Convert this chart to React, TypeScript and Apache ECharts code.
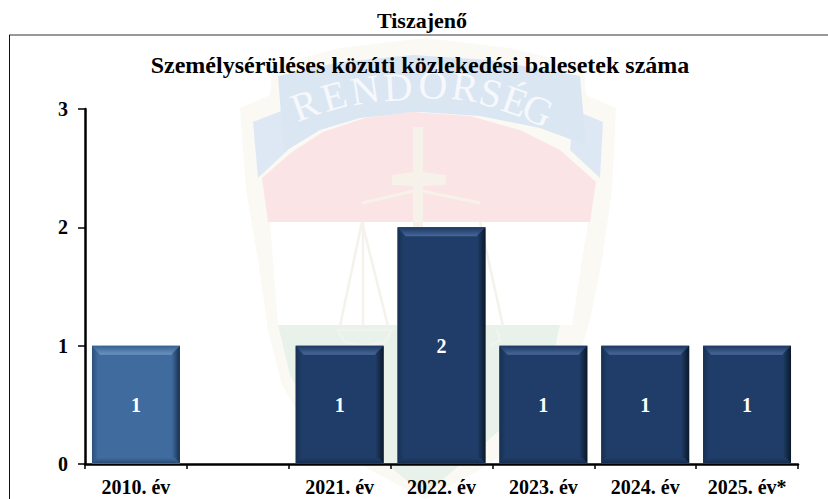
import React, { useEffect, useRef } from "react";
import * as echarts from "echarts";

const categories = ["2010. év", "", "2021. év", "2022. év", "2023. év", "2024. év", "2025. év*"];
const accidents: (number | null)[] = [1, null, 1, 2, 1, 1, 1];
const yTicks = { min: 0, max: 3, interval: 1 };
const pageTitle = "Tiszajenő";
const chartTitle = "Személysérüléses közúti közlekedési balesetek száma";
const crestWord = ["R", "E", "N", "D", "Ő", "R", "S", "É", "G"];

const SERIF = '"Liberation Serif", serif';

const paletteFor = (i: number) =>
  i === 0
    ? { base: "#3F6B9E", top: "#6A93C2", topEdge: "#35608F", side: "#17304D", left: "#2C5079", bottom: "#2A4C75" }
    : { base: "#1F3D68", top: "#48689A", topEdge: "#1C3760", side: "#0B1829", left: "#172F52", bottom: "#172E50" };

const renderBevel = (params: any, api: any) => {
  const i = api.value(0);
  const v = api.value(1);
  const p = paletteFor(i);
  const top = api.coord([i, v]);
  const bottom = api.coord([i, 0]);
  const w = api.size([1, 0])[0] * 0.863;
  const x0 = top[0] - w / 2;
  const x1 = top[0] + w / 2;
  const y0 = top[1];
  const y1 = bottom[1] - 1;
  const b = 8;
  const poly = (points: number[][], fill: any) => ({
    type: "polygon",
    shape: { points },
    style: { fill },
    silent: true,
  });
  const grad = (x: number, y: number, x2: number, y2: number, a: string, c: string) =>
    new echarts.graphic.LinearGradient(x, y, x2, y2, [
      { offset: 0, color: a },
      { offset: 1, color: c },
    ]);
  return {
    type: "group",
    children: [
      poly([[x0, y0], [x1, y0], [x1 - b, y0 + b + 1], [x0 + b, y0 + b + 1]], grad(0, 0, 0, 1, p.topEdge, p.top)),
      poly([[x0, y0], [x0 + b - 2, y0 + b], [x0 + b - 2, y1 - b + 3], [x0, y1]], grad(0, 0, 1, 0, p.left, p.base)),
      poly([[x1, y0], [x1 - b, y0 + b], [x1 - b, y1 - b + 3], [x1, y1]], grad(1, 0, 0, 0, p.side, p.base)),
      poly([[x0, y1], [x1, y1], [x1 - b + 3, y1 - b + 3], [x0 + b - 3, y1 - b + 3]], grad(0, 1, 0, 0, p.bottom, p.base)),
    ],
  };
};

const crestPoly = (points: number[][], fill: string) => ({
  type: "polygon",
  shape: { points },
  style: { fill },
  silent: true,
});
const crestLine = (points: number[][], stroke: string, lineWidth: number) => ({
  type: "polyline",
  shape: { points },
  style: { stroke, lineWidth, fill: "none" },
  silent: true,
});

const BEIGE = "#F6F2EA";
const crestLetters = [
  [305, 105, 0.36],
  [334, 96, 0.27],
  [365, 90, 0.15],
  [398, 87, 0.05],
  [433, 85, -0.04],
  [465, 87, -0.14],
  [491, 93, -0.24],
  [515, 101, -0.34],
  [538, 110, -0.42],
];

const crest: any[] = [
  crestPoly(
    [[240, 108], [270, 95], [272, 66], [340, 48], [425, 38], [510, 48], [584, 66], [586, 95], [616, 108],
     [612, 190], [602, 260], [590, 320], [572, 380], [545, 425], [480, 470], [425, 499], [370, 470], [305, 425],
     [282, 385], [268, 330], [258, 260], [246, 190]],
    "#FBF9F4",
  ),
  crestPoly([[253, 122], [284, 110], [288, 150], [258, 178]], "#DEE8F4"),
  crestPoly([[603, 122], [574, 110], [570, 150], [600, 178]], "#DEE8F4"),
  crestPoly(
    [[278, 76], [340, 62], [413, 55], [490, 60], [580, 76], [586, 145], [540, 128], [480, 116], [420, 112], [360, 118], [320, 130], [284, 152]],
    "#DBE6F3",
  ),
  crestPoly(
    [[262, 178], [292, 152], [323, 132], [365, 118], [410, 112], [470, 116], [520, 130], [560, 150], [596, 182], [590, 222], [268, 222]],
    "#FBE4E5",
  ),
  crestPoly(
    [[270, 222], [588, 222], [572, 325], [278, 325]],
    "#FFFFFF",
  ),
  crestPoly(
    [[278, 325], [560, 325], [552, 360], [530, 400], [500, 430], [425, 495], [350, 435], [310, 410], [290, 375]],
    "#E8F2EB",
  ),
  crestPoly(
    [[413, 127], [423, 127], [423, 172], [446, 175], [446, 185], [423, 186], [423, 230], [413, 230], [413, 186], [392, 185], [392, 175], [413, 172]],
    BEIGE,
  ),
  crestLine([[362, 203], [418, 190], [480, 203]], BEIGE, 3),
  crestLine([[340, 326], [362, 222], [388, 326]], "#F5F2EC", 2.5),
  crestLine([[363, 222], [363, 326]], "#F5F2EC", 2.5),
  crestLine([[480, 222], [503, 326]], "#F5F2EC", 2.5),
  crestLine([[337, 330], [345, 342], [365, 346], [385, 342], [392, 330], [337, 330]], "#F2F3EC", 2.5),
  crestLine([[497, 330], [500, 340], [490, 346]], "#F2F3EC", 2.5),
  ...crestWord.map((ch, i) => ({
    type: "text",
    x: crestLetters[i][0],
    y: crestLetters[i][1],
    rotation: crestLetters[i][2],
    silent: true,
    style: {
      text: ch,
      fill: "#F6F8FC",
      font: `40px ${SERIF}`,
      align: "center",
      verticalAlign: "middle",
    },
  })),
];

const frame = [
  { type: "line", shape: { x1: 9, y1: 35, x2: 828, y2: 35 }, style: { stroke: "#777777", lineWidth: 1.5 }, silent: true },
  { type: "line", shape: { x1: 9.5, y1: 35, x2: 9.5, y2: 499 }, style: { stroke: "#111111", lineWidth: 1 }, silent: true },
];

export default function App() {
  const ref = useRef<HTMLDivElement>(null);
  useEffect(() => {
    document.body.style.margin = "0";
    const chart = echarts.init(ref.current!, undefined, { renderer: "svg" });
    chart.setOption({
      animation: false,
      backgroundColor: "#ffffff",
      title: [
        { text: pageTitle, left: 417, top: 4, textAlign: "center", textStyle: { fontFamily: SERIF, fontWeight: "bold", fontSize: 22, color: "#000" } },
        { text: chartTitle, left: 415, top: 48, textAlign: "center", textStyle: { fontFamily: SERIF, fontWeight: "bold", fontSize: 24, color: "#000" } },
      ],
      graphic: [...crest, ...frame],
      grid: { left: 85, right: 30, top: 109, bottom: 35 },
      xAxis: {
        type: "category",
        data: categories,
        axisLine: { lineStyle: { color: "#000", width: 2.5 } },
        axisTick: { show: true, alignWithLabel: false, length: 5, lineStyle: { color: "#000", width: 1.5 } },
        axisLabel: { interval: 0, margin: 13, fontFamily: SERIF, fontWeight: "bold", fontSize: 20, color: "#000" },
      },
      yAxis: {
        type: "value",
        ...yTicks,
        splitLine: { show: false },
        axisLine: { show: true, lineStyle: { color: "#000", width: 2.5 } },
        axisTick: { show: true, length: 7, lineStyle: { color: "#000", width: 1.5 } },
        axisLabel: { margin: 17, fontFamily: SERIF, fontWeight: "bold", fontSize: 20, color: "#000" },
      },
      series: [
        {
          type: "bar",
          barWidth: "86.3%",
          z: 2,
          data: accidents.map((value, i) => ({ value, itemStyle: { color: paletteFor(i).base } })),
          label: {
            show: true,
            position: "inside",
            fontFamily: SERIF,
            fontWeight: "bold",
            fontSize: 20,
            color: "#fff",
          },
        },
        {
          type: "custom",
          z: 3,
          silent: true,
          renderItem: renderBevel,
          encode: { x: 0, y: 1 },
          data: accidents.map((v, i) => [i, v]).filter((d) => d[1] !== null),
        },
      ],
    });
    return () => chart.dispose();
  }, []);
  return <div ref={ref} style={{ position: "absolute", left: 0, top: 0, width: 828, height: 499 }} />;
}
